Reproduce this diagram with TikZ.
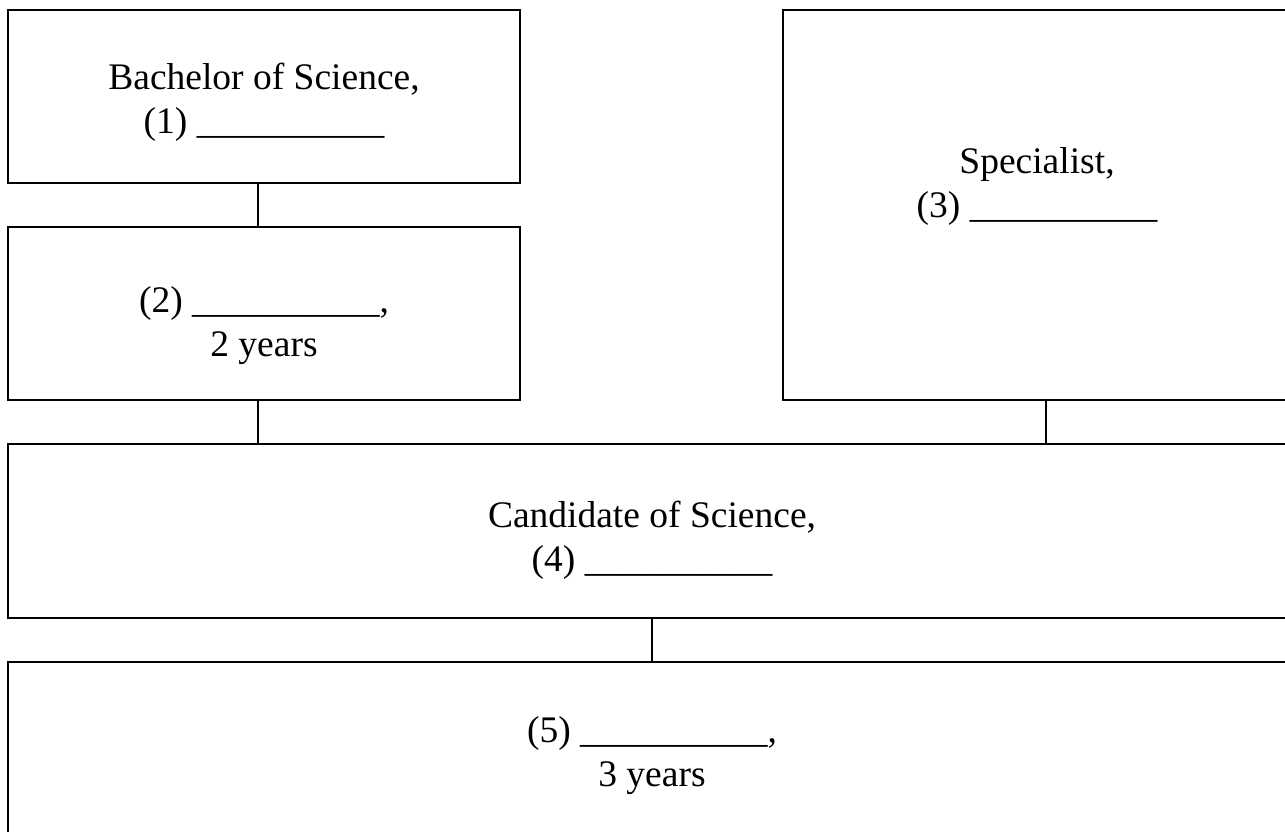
\documentclass[tikz,border=0pt]{standalone}
\usepackage{fontspec}
\setmainfont{Liberation Serif}
\usetikzlibrary{positioning}

\newcommand{\blank}{\_\_\_\_\_\_\_\_\_\_}

\begin{document}
\begin{tikzpicture}[
        x=1pt, y=1pt,
        node distance=44pt,
        stagebox/.style={draw, rectangle, line width=1.1pt, outer sep=0pt, inner sep=0pt, align=center,
            font=\fontsize{37.5}{44}\selectfont},
        drop/.style={text height=#1, text depth=0pt},
        link/.style={line width=1.1pt}
    ]
        \useasboundingbox (0,0) rectangle (1285,-831);
        \clip (0,0) rectangle (1285,-831);

        \node[stagebox, drop=73pt, minimum width=512pt, minimum height=173pt] (bachelor) at (264,-96.5)
            {Bachelor of Science,\\(1) \blank};
        \node[stagebox, drop=85pt, minimum width=512pt, minimum height=173pt, below=of bachelor] (master)
            {(2) \blank,\\2 years};
        \node[stagebox, drop=24pt, minimum width=508pt, minimum height=390pt] (specialist) at (1037,-205)
            {Specialist,\\(3) \blank};
        \node[stagebox, drop=80pt, minimum width=1288pt, minimum height=174pt] (candidate) at (652,-531)
            {Candidate of Science,\\(4) \blank};
        \node[stagebox, drop=74pt, minimum width=1288pt, minimum height=174pt, below=of candidate] (doctor)
            {(5) \blank,\\3 years};

        \draw[link] ([xshift=-6pt]bachelor.south) -- ([xshift=-6pt]master.north);
        \draw[link] ([xshift=-6pt]master.south) -- ([xshift=-6pt]master.south |- candidate.north);
        \draw[link] ([xshift=9pt]specialist.south) -- ([xshift=9pt]specialist.south |- candidate.north);
        \draw[link] (candidate.south) -- (doctor.north);
    \end{tikzpicture}
\end{document}
